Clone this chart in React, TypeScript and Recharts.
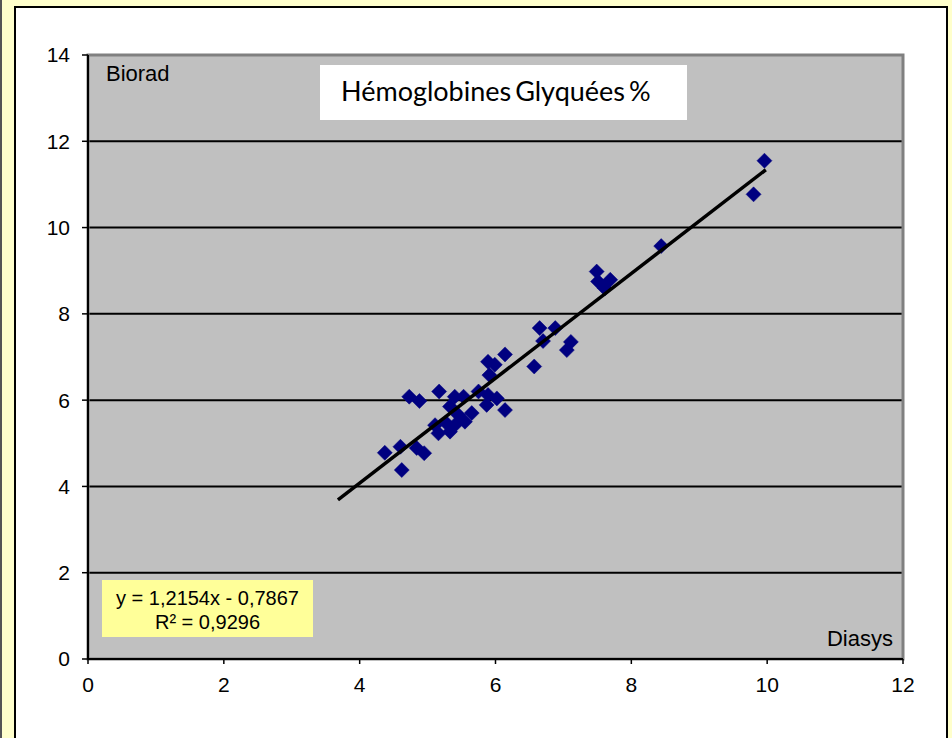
import React from 'react';
import { ScatterChart, Scatter, XAxis, YAxis, CartesianGrid, ReferenceArea } from 'recharts';

// Diasys (x) vs Biorad (y) HbA1c %
const diasys = [
  4.37, 4.60, 4.62, 4.73, 4.88, 4.84, 4.95, 5.17, 5.11, 5.16,
  5.28, 5.33, 5.40, 5.40, 5.33, 5.45, 5.53, 5.55, 5.65, 5.75,
  5.89, 5.99, 5.91, 5.89, 6.02, 5.87, 6.14, 6.14, 6.57, 6.65,
  6.70, 6.88, 7.05, 7.11, 7.49, 7.51, 7.69, 7.61, 8.44, 9.80, 9.96,
];
const biorad = [
  4.78, 4.92, 4.38, 6.08, 5.98, 4.89, 4.77, 6.20, 5.42, 5.23,
  5.46, 5.85, 6.08, 5.42, 5.27, 5.66, 6.08, 5.50, 5.70, 6.20,
  6.89, 6.82, 6.58, 6.12, 6.04, 5.89, 7.06, 5.77, 6.78, 7.67,
  7.37, 7.67, 7.16, 7.35, 8.98, 8.75, 8.79, 8.59, 9.57, 10.77, 11.55,
];
// Linear trend line end points (y = 1,2154x - 0,7867)
const trendX = [3.68, 9.98];
const trendY = [3.69, 11.34];

const xTicks = [0, 2, 4, 6, 8, 10, 12];
const yTicks = [0, 2, 4, 6, 8, 10, 12, 14];

const titleText = 'Hémoglobines Glyquées %';
const yLabel = 'Biorad';
const xLabel = 'Diasys';
const eqLine1 = 'y = 1,2154x - 0,7867';
const eqLine2 = 'R² = 0,9296';

const points = diasys.map((x, i) => ({ x, y: biorad[i] }));
const trend = trendX.map((x, i) => ({ x, y: trendY[i] }));

const FONT = '"Liberation Sans", Arial, sans-serif';

const Diamond = (props: any) => {
  const { cx, cy } = props;
  const r = 7.5;
  return (
    <polygon
      points={`${cx},${cy - r} ${cx + r},${cy} ${cx},${cy + r} ${cx - r},${cy}`}
      fill="#000080"
      stroke="#000080"
      strokeWidth={0.5}
    />
  );
};

const NoShape = () => <g />;

export default function App() {
  return (
    <div
      style={{
        position: 'absolute',
        left: 0,
        top: 0,
        width: 952,
        height: 738,
        background: '#ffffcc',
        overflow: 'hidden',
        fontFamily: FONT,
      }}
    >
      <div style={{ position: 'absolute', left: 0, top: 0, width: 2, height: 738, background: '#555' }} />
      <div
        style={{
          position: 'absolute',
          left: 14,
          top: 6,
          width: 930,
          height: 760,
          background: '#fff',
          border: '2px solid #000',
        }}
      />
      <div style={{ position: 'absolute', left: 0, top: 0 }}>
        <ScatterChart
          width={952}
          height={738}
          margin={{ top: 55, right: 49, bottom: 49, left: 48 }}
        >
          <CartesianGrid
            vertical={false}
            stroke="#000"
            strokeWidth={2}
            fill="#c0c0c0"
            fillOpacity={1}
          />
          <ReferenceArea
            x1={0}
            x2={12}
            y1={0}
            y2={14}
            fill="none"
            stroke="#808080"
            strokeWidth={3}
          />
          <XAxis
            type="number"
            dataKey="x"
            domain={[0, 12]}
            ticks={xTicks}
            allowDataOverflow
            height={30}
            tickSize={5}
            tickMargin={13}
            axisLine={{ stroke: '#000', strokeWidth: 2 }}
            tickLine={{ stroke: '#000', strokeWidth: 1.5 }}
            tick={{ fill: '#000', fontSize: 21, fontFamily: FONT }}
          />
          <YAxis
            type="number"
            dataKey="y"
            domain={[0, 14]}
            ticks={yTicks}
            allowDataOverflow
            width={40}
            tickSize={6}
            tickMargin={12}
            axisLine={{ stroke: '#000', strokeWidth: 2 }}
            tickLine={{ stroke: '#000', strokeWidth: 1.5 }}
            tick={{ fill: '#000', fontSize: 21, fontFamily: FONT }}
          />
          <Scatter data={points} shape={<Diamond />} isAnimationActive={false} />
          <Scatter
            data={trend}
            line={{ stroke: '#000', strokeWidth: 3.5 }}
            lineType="joint"
            shape={<NoShape />}
            isAnimationActive={false}
          />
        </ScatterChart>
      </div>
      <div
        style={{
          position: 'absolute',
          left: 106,
          top: 63,
          fontSize: 22,
          lineHeight: '22px',
          color: '#000',
        }}
      >
        {yLabel}
      </div>
      <div
        style={{
          position: 'absolute',
          right: 59,
          top: 628,
          fontSize: 22,
          lineHeight: '22px',
          color: '#000',
        }}
      >
        {xLabel}
      </div>
      <div
        style={{
          position: 'absolute',
          left: 320,
          top: 65,
          width: 367,
          height: 55,
          background: '#fff',
          boxSizing: 'border-box',
          paddingLeft: 21,
          paddingTop: 11,
          fontFamily: 'Lato, "Open Sans", sans-serif',
          fontSize: 27,
          lineHeight: '30px',
          wordSpacing: -3,
          whiteSpace: 'nowrap',
          color: '#000',
        }}
      >
        {titleText}
      </div>
      <div
        style={{
          position: 'absolute',
          left: 102,
          top: 580,
          width: 211,
          height: 57,
          background: '#ffff99',
          boxSizing: 'border-box',
          paddingTop: 6,
          textAlign: 'center',
          fontSize: 20,
          lineHeight: '24px',
          color: '#000',
          whiteSpace: 'nowrap',
        }}
      >
        <div>{eqLine1}</div>
        <div>{eqLine2}</div>
      </div>
    </div>
  );
}
